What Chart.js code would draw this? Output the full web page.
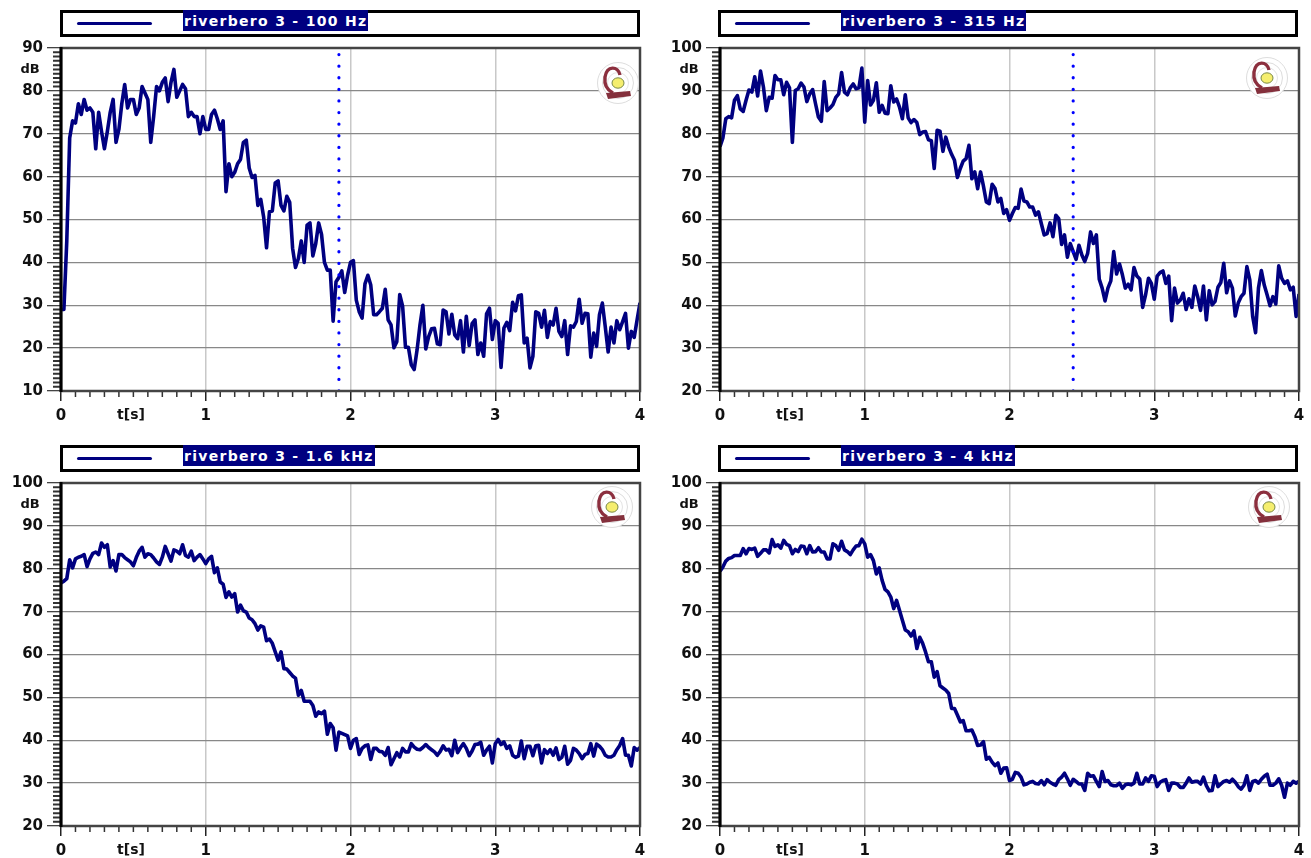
<!DOCTYPE html>
<html>
<head>
<meta charset="utf-8">
<title>riverbero 3</title>
<script src="https://cdn.jsdelivr.net/npm/chart.js@4"></script>
<style>
  html, body { margin: 0; padding: 0; background: #fff; }
  #page { position: relative; width: 1311px; height: 858px; overflow: hidden; }
  canvas { position: absolute; }
  .legend { position: absolute; width: 574px; height: 21px; border: 3px solid #000; background: #fff; }
  .legend i { position: absolute; left: 14px; top: 9px; width: 75px; height: 3px; background: #000080; border-radius: 2px; }
  .legend span { position: absolute; left: 120px; top: -3px; height: 21px; padding: 0 1px;
    background: #000080; color: #fff; font: bold 14px "DejaVu Sans"; line-height: 23px; letter-spacing: 1.3px; white-space: pre; }
  .logo { position: absolute; width: 44px; height: 44px; }
</style>
</head>
<body>
<div id="page"></div>
<script>
  // one value every 20 ms
  const sampleStep = 0.02;
  const level100 = [29,29,45,69,73,72.5,77,74.5,78,75.5,76,75,66.5,75,70.5,66.5,70.5,75,78,68,71,77,81.5,76,78,78,74.5,76,81,79.5,78,68,74,81,80,82,83,77.5,82,85,78.5,80,81.5,80.5,74,75,74,74,70,74,71,71,74.5,75.5,73.5,71,73,56.5,63,60,61,63,64,68,68.5,62,59.8,60.3,53.3,54.7,50.6,43.4,51.8,52,58.5,59,53.3,52,55.4,54,43.3,38.8,40.9,45,40,48.7,49.2,41.5,44.4,49.2,46.5,40,38.2,38.2,26.3,35.5,36.5,38,33,37,40,40.4,31.2,28.5,27,35,37,34.7,27.8,27.8,28.5,29.3,33.7,26.6,25.4,20.1,21.5,32.5,29.8,20.2,20.2,16.1,15,19.6,25.4,30,19.8,22.7,24.5,24.6,21,20.8,28.9,28.5,23.3,27.9,23.1,22.2,26.4,19.1,27.4,20.6,25.7,26.6,18.5,21.2,18.1,28,29.3,22,26.4,25.8,15.5,24.7,26,24.1,30.7,28.7,32.2,32.4,21.2,22.3,15.4,18.1,28.5,28.1,24.9,28.8,22.5,26.2,25.4,29.3,23.9,22.7,26.4,18.5,25.2,24.9,26.2,31.4,25.8,28.1,28,17.9,23.5,20.4,27.8,30.5,25,19.1,24.9,21.2,26.4,24.3,26.2,28.1,20,23.9,22.5,26.6,30.6];
  const level315 = [77,79,83.5,84,83.7,87.8,88.9,85.8,85.2,87.8,90.2,89.7,93.3,88.8,94.6,90.9,85.4,88.5,88.3,93.6,92.6,92.6,89.1,92,90.7,78,90.1,90.5,91.8,90.9,87.5,89.3,90.3,87,83.9,82.9,92.2,85.4,86,86.8,88.5,89.3,94.3,89.7,89.1,90.7,91.6,90.5,90.7,95.3,82.7,92.4,86.7,87.8,91.9,85,86.6,84.8,84.7,91.2,87.4,88.1,86.2,83.5,89.1,83.7,82.6,83.3,82.6,79.8,80.4,80.5,78.6,78.4,71.9,80.8,80.6,75.9,79.2,76.9,75.2,73.8,69.8,71.9,73.6,74.2,77.3,69.5,71.1,67.2,71.1,67.8,64.1,63.7,68.2,67.2,64.1,64.9,61.4,62.3,59.8,61.4,62.8,62.6,67.1,64.3,64.1,62.9,62.9,61,61.8,59,56.4,56.7,59.2,56,61,60.2,54.2,56.4,51.2,54.4,52.5,50.7,54,51.7,50.2,52.1,57.1,54.4,56.4,46.1,44,41,44,45.7,52.5,47.3,49.6,47.1,44,44.9,43.6,48.8,46.8,46.1,39.5,42.4,46.3,45.1,41.4,46.8,47.6,48,45.1,46.8,36.4,44,40.5,41.2,42.8,39,41.5,39.5,44.5,42,38.8,44.5,36.6,43.4,40.1,40.9,44.2,45.3,49.8,42.9,45.7,44,37.5,40.5,42,42.8,49,45.9,37.4,33.6,44,48.1,44.7,42.4,39.9,42,40.3,49.2,46.3,45.1,45.7,43.6,44.2,37.4,42.6];
  const level1600 = [76.7,77.1,77.7,82.1,80.2,82.3,82.7,82.9,83.3,80.5,82.3,83.6,83.9,83.3,86,85,85.6,80.4,81.9,79.5,83.3,83.3,82.6,82.1,81.6,80.7,82.6,84.1,85,82.7,83.5,83.3,82.5,81.6,81,82.7,85.2,83.5,81.8,84.4,84.1,83.5,85.6,83.1,82.7,84.1,81.9,82.7,83.3,82.3,81.2,82.3,82.9,79.1,80.2,76.9,76.4,73.3,74.6,73.4,74.2,69.9,71.5,70.2,69.9,68.5,68.1,67.2,65.7,66.7,66.4,63.2,63.6,62.6,60.6,58.7,60.6,56.7,56.6,55.8,55,54.5,50.5,51.6,49.1,49.1,49.1,48.1,45.6,46.6,46.2,46.8,41.4,43.9,42.9,37.7,41.9,41.6,41.3,41,38.1,40,40.4,36.7,38.1,38.7,38.9,35.5,38.1,38.1,37.4,37.3,36.5,38.3,34.3,35.7,37.1,36.1,38.1,37.3,37.3,39.2,38.4,37.9,37.8,38.3,39,38.3,37.8,37.3,36.5,37.4,38.7,37.7,37.9,36.4,40,37.1,38.3,39.2,38.1,36.4,37.5,39,39.1,39.5,36.5,37.7,38.6,34.7,39.2,40.2,39,39.6,38.1,38.7,36.5,36,36.3,39.8,35.7,38.6,38.6,36.4,38.7,38.8,34.7,37.8,36.9,37.8,36.5,38.2,35.5,36,38.6,34.4,35.3,38.1,37.7,36.9,35.7,36.7,36.9,39.2,36.3,39.1,38.6,37.8,36.5,36.1,36.1,36.5,37.8,38.8,40.4,36.5,36.5,34,38.3,37.7,38.3];
  const level4000 = [79.4,80.4,81.8,82.4,82.6,83.1,83.1,83.1,84.7,83.5,84.7,84.5,84.8,82.9,83.6,84.4,84.4,83.7,86.8,85.2,85.6,84.8,86.6,85.7,85.4,83.5,84.5,84,85.3,85.2,83.5,85.4,83.9,84,84.9,83.9,83.9,82.3,82.3,85.8,85.4,84.3,86.4,84.4,84,83.3,84.4,85.3,85.4,86.9,85.8,82.7,83.3,81.9,78.8,80.2,77.3,75.2,74.6,73.4,70.7,72.6,70.3,68,65.7,65.3,64.3,65.5,61.4,64,62.6,60.6,58.3,58.3,54.7,56,52.7,52.2,51.7,50.9,47.4,47.4,45.9,44.3,44.6,42.2,42.2,42.4,40.9,38.8,38.9,39.7,35.6,36,34.9,34.1,34.7,32.3,33.5,33.6,30.6,30.9,32.5,32.3,31.4,29.6,29.8,30.2,30.4,29.9,29.8,30.6,29.6,30.8,30.2,29.8,29.5,30.8,31.4,32.3,31,29.5,30.9,30.4,29.8,29.8,28.3,32.3,31.6,31.7,30.4,29.2,32.7,30.4,30.6,29.6,29.4,29.4,30,28.8,29.6,29.8,29.6,30,32.3,29.8,29.8,31.2,30.4,31.7,31.6,29.2,30.2,30.6,30.8,28.3,30,30,29.8,29,29,30,31.2,30.2,30.4,30.4,29.8,31.4,29.4,28.2,28.3,31.7,29.2,29.8,30.4,30.6,30.2,30.9,30.2,29.2,28.6,29.5,31.7,28.3,30.4,30.6,30,30.9,31.6,32.1,29.5,29.5,30,31,29.5,26.7,30,29.5,30.4,30,30.4];

  const legendLabels = ["riverbero 3 - 100 Hz", "riverbero 3 - 315 Hz", "riverbero 3 - 1.6 kHz", "riverbero 3 - 4 kHz"];
  const yMins = [10, 20, 20, 20];
  const yMaxs = [90, 100, 100, 100];
  const decayMarks = [1.92, 2.44, null, null];

  const seriesList = [level100, level315, level1600, level4000];

  // panel placement on the page
  const panelLefts = [61, 719.7, 61, 719.7];
  const panelTops = [48, 48, 482.7, 482.7];
  const legendLefts = [60, 718, 60, 718];
  const legendTops = [10, 10, 445, 445];
  const panelWidth = 578.7;
  const panelHeight = 343;
  const logoCenters = [[618, 83], [1267, 78], [612, 507], [1269, 507]];

  const page = document.getElementById("page");

  const frameAndTicks = {
    id: "frameAndTicks",
    beforeDatasetsDraw(chart) {
      const c = chart.ctx;
      const area = chart.chartArea;
      const xs = chart.scales.x;
      const ys = chart.scales.y;
      c.save();
      // minor ticks
      c.strokeStyle = "#333";
      c.lineWidth = 2;
      c.beginPath();
      for (let v = ys.min; v <= ys.max; v++) {
        if (v % 10 === 0) continue;
        const y = ys.getPixelForValue(v);
        c.moveTo(area.left - 8, y);
        c.lineTo(area.left, y);
      }
      c.stroke();
      c.lineWidth = 1.5;
      c.beginPath();
      for (let k = 0; k <= 40; k++) {
        if (k % 10 === 0) continue;
        const x = xs.getPixelForValue(k / 10);
        c.moveTo(x, area.bottom);
        c.lineTo(x, area.bottom + 6);
      }
      c.stroke();
      c.restore();
    },
    afterDraw(chart) {
      const c = chart.ctx;
      const area = chart.chartArea;
      c.save();
      c.strokeStyle = "#444";
      c.lineWidth = 2.5;
      c.strokeRect(area.left, area.top, area.right - area.left, area.bottom - area.top);
      c.strokeStyle = "#000";
      c.lineWidth = 3;
      c.beginPath();
      c.moveTo(area.left, area.top - 1);
      c.lineTo(area.left, area.bottom + 1);
      c.stroke();
      c.fillStyle = "#111";
      c.textAlign = "center";
      c.textBaseline = "middle";
      c.font = 'bold 13px "DejaVu Sans"';
      c.fillText("dB", area.left - 31, area.top + 22);
      c.font = 'bold 14px "DejaVu Sans"';
      c.fillText("t[s]", area.left + 70, area.bottom + 24);
      c.restore();
    },
  };

  function logoSvg(cx, cy) {
    const div = document.createElement("div");
    div.className = "logo";
    div.style.left = cx - 22 + "px";
    div.style.top = cy - 22 + "px";
    div.innerHTML =
      '<svg width="44" height="44" viewBox="0 0 44 44">' +
      '<circle cx="22" cy="22" r="20.5" fill="#fff" stroke="#ddd"/>' +
      '<circle cx="22" cy="22" r="15.5" fill="none" stroke="#ddd"/>' +
      '<circle cx="22" cy="22" r="10.5" fill="none" stroke="#e4e4e4"/>' +
      '<path d="M24 14 C22 5 11 4 9 16 C8 24 11 29 17 32" fill="none" stroke="#8c2f3e" stroke-width="3.4"/>' +
      '<path d="M10 32 L34 30 L35 35 L12 38 Z" fill="#84303c"/>' +
      '<ellipse cx="22" cy="22" rx="6" ry="5.2" fill="#f5ee6e" stroke="#7a8a4a"/>' +
      "</svg>";
    return div;
  }

  seriesList.forEach((values, p) => {
    const left = panelLefts[p];
    const top = panelTops[p];

    // legend bar above the plot
    const legend = document.createElement("div");
    legend.className = "legend";
    legend.style.left = legendLefts[p] + "px";
    legend.style.top = legendTops[p] + "px";
    legend.innerHTML = "<i></i><span></span>";
    legend.querySelector("span").textContent = legendLabels[p];
    page.appendChild(legend);

    const canvas = document.createElement("canvas");
    const padLeft = 61;
    const padTop = 10;
    const padRight = 18;
    let padBottom = 40;
    canvas.width = Math.round(panelWidth + padLeft + padRight);
    canvas.height = panelHeight + padTop + padBottom;
    canvas.style.left = left - padLeft + "px";
    canvas.style.top = top - padTop + "px";
    page.appendChild(canvas);

    const datasets = [
      {
        label: legendLabels[p],
        data: values.map((v, i) => ({ x: i * sampleStep, y: v })),
        borderColor: "#000080",
        borderWidth: 3.6,
        borderJoinStyle: "round",
        pointRadius: 0,
        tension: 0,
        order: 2,
      },
    ];
    if (decayMarks[p] !== null) {
      datasets.push({
        label: "decay",
        data: [
          { x: decayMarks[p], y: yMins[p] },
          { x: decayMarks[p], y: yMaxs[p] },
        ],
        borderColor: "#0000ff",
        borderWidth: 3.2,
        borderDash: [0.1, 11.5],
        borderCapStyle: "round",
        pointRadius: 0,
        order: 1,
      });
    }

    const chart = new Chart(canvas.getContext("2d"), {
      type: "line",
      data: { datasets: datasets },
      plugins: [frameAndTicks],
      options: {
        responsive: false,
        animation: false,
        devicePixelRatio: 1,
        layout: { padding: { top: padTop, right: padRight, left: 0, bottom: 0 } },
        plugins: { legend: { display: false }, tooltip: { enabled: false } },
        scales: {
          x: {
            type: "linear",
            min: 0,
            max: 4,
            afterFit: (scale) => { scale.height = padBottom; },
            border: { display: false },
            grid: { color: "#c8c8c8", lineWidth: 1.5, tickColor: "#222", tickLength: 10 },
            ticks: {
              stepSize: 1,
              maxRotation: 0,
              padding: 6,
              color: "#111",
              font: { family: "DejaVu Sans", weight: "bold", size: 15 },
            },
          },
          y: {
            min: yMins[p],
            max: yMaxs[p],
            afterFit: (scale) => { scale.width = padLeft; },
            border: { display: false },
            grid: { color: "#888", lineWidth: 1.3, tickColor: "#444", tickLength: 14 },
            ticks: {
              stepSize: 10,
              padding: 4,
              color: "#111",
              font: { family: "DejaVu Sans", weight: "bold", size: 15 },
            },
          },
        },
      },
    });

    // the layout rounds things a bit, so line the plot area up with the reference
    const area = chart.chartArea;
    canvas.style.top = top - area.top + "px";
    canvas.style.left = left - area.left + "px";
    padBottom -= panelHeight - (area.bottom - area.top);
    chart.update();

    page.appendChild(logoSvg(logoCenters[p][0], logoCenters[p][1]));
  });
</script>
</body>
</html>
